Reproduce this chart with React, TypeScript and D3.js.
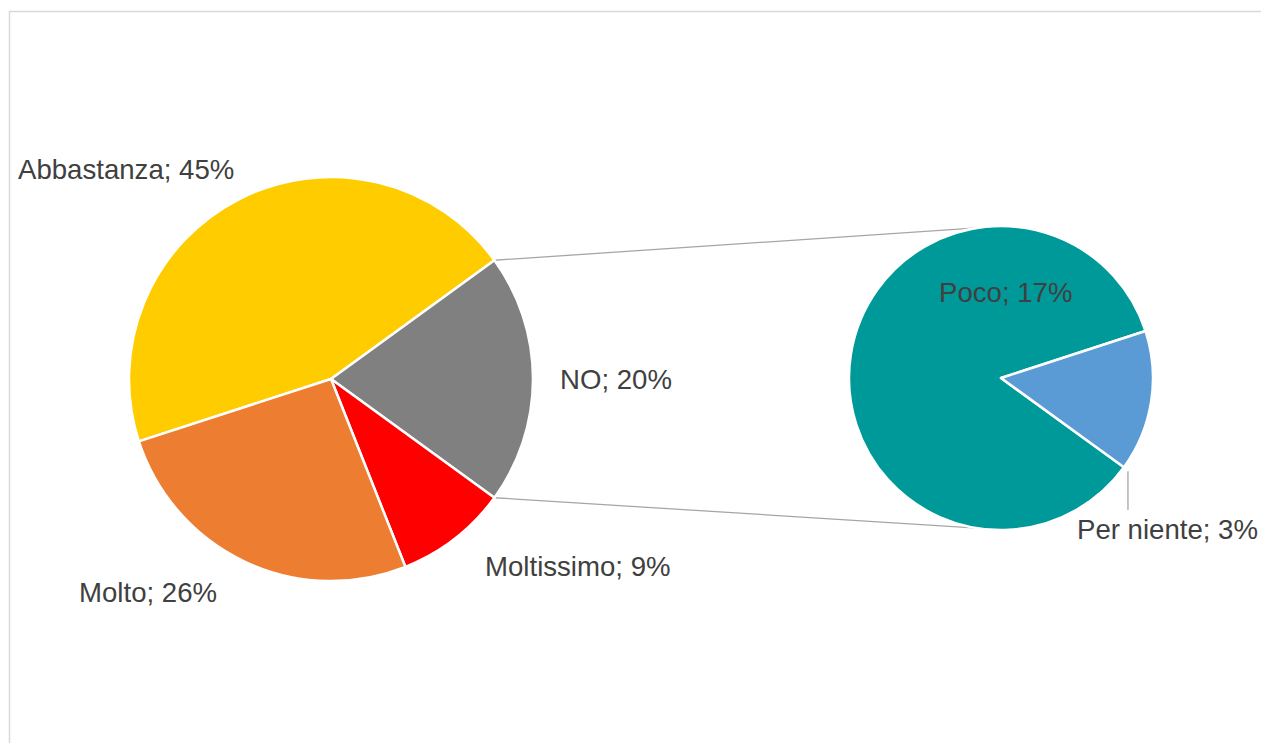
import React from "react";
import * as d3 from "d3";

const mainLabels = ["Abbastanza", "NO", "Moltissimo", "Molto"];
const mainValues = [45, 20, 9, 26];
const mainColors = ["#FFCC00", "#808080", "#FF0000", "#ED7D31"];

const subLabels = ["Poco", "Per niente"];
const subValues = [17, 3];
const subColors = ["#009999", "#5B9BD5"];

const W = 1261;
const H = 743;
const deg = Math.PI / 180;

const mainC = { x: 331, y: 379, r: 202 };
const subC = { x: 1001, y: 378, r: 152 };

// label anchor positions (left x, baseline y)
const mainLabelPos = [
  [18, 179],
  [560, 389],
  [485, 576],
  [79, 602],
];
const subLabelPos = [
  [939, 302],
  [1077, 539],
];

const FONT = "'Liberation Sans', Arial, sans-serif";
const TEXT = "#404040";
const FS = 27.6;

export default function App() {
  const mainPie = d3
    .pie<number>()
    .sort(null)
    .startAngle(252 * deg)
    .endAngle(612 * deg);
  const mainArcs = mainPie(mainValues);

  const subPie = d3
    .pie<number>()
    .sort(null)
    .startAngle(126 * deg)
    .endAngle(486 * deg);
  const subArcs = subPie(subValues);

  const mainArc = d3.arc<d3.PieArcDatum<number>>().innerRadius(0).outerRadius(mainC.r);
  const subArc = d3.arc<d3.PieArcDatum<number>>().innerRadius(0).outerRadius(subC.r);

  const pt = (c: { x: number; y: number; r: number }, a: number) => [
    c.x + c.r * Math.sin(a),
    c.y - c.r * Math.cos(a),
  ];

  const other = mainArcs[1];
  const p1 = pt(mainC, other.startAngle);
  const p2 = pt(mainC, other.endAngle);
  const q1 = pt(subC, -9 * deg);
  const q2 = pt(subC, 189 * deg);

  const pn = subArcs[1];
  const lp = pt(subC, pn.endAngle);

  return (
    <svg width={W} height={H} style={{ position: "absolute", left: 0, top: 0 }}>
      <rect x={0} y={0} width={W} height={H} fill="#fff" />
      <rect x={9.5} y={11.5} width={W + 20} height={H + 20} fill="none" stroke="#d9d9d9" strokeWidth={1.5} />
      <line x1={p1[0]} y1={p1[1]} x2={q1[0]} y2={q1[1]} stroke="#a6a6a6" strokeWidth={1.3} />
      <line x1={p2[0]} y1={p2[1]} x2={q2[0]} y2={q2[1]} stroke="#a6a6a6" strokeWidth={1.3} />
      <g transform={`translate(${mainC.x},${mainC.y})`}>
        {mainArcs.map((a, i) => (
          <path key={i} d={mainArc(a) || ""} fill={mainColors[i]} stroke="#fff" strokeWidth={2.5} strokeLinejoin="round" />
        ))}
      </g>
      <g transform={`translate(${subC.x},${subC.y})`}>
        {subArcs.map((a, i) => (
          <path key={i} d={subArc(a) || ""} fill={subColors[i]} stroke="#fff" strokeWidth={2.5} strokeLinejoin="round" />
        ))}
      </g>
      <line x1={lp[0] + 4} y1={lp[1] + 4} x2={lp[0] + 4} y2={510} stroke="#a6a6a6" strokeWidth={1.3} />
      {mainLabels.map((l, i) => (
        <text key={l} x={mainLabelPos[i][0]} y={mainLabelPos[i][1]} fontFamily={FONT} fontSize={FS} fill={TEXT}>
          {`${l}; ${mainValues[i]}%`}
        </text>
      ))}
      {subLabels.map((l, i) => (
        <text key={l} x={subLabelPos[i][0]} y={subLabelPos[i][1]} fontFamily={FONT} fontSize={FS} fill={TEXT}>
          {`${l}; ${subValues[i]}%`}
        </text>
      ))}
    </svg>
  );
}
